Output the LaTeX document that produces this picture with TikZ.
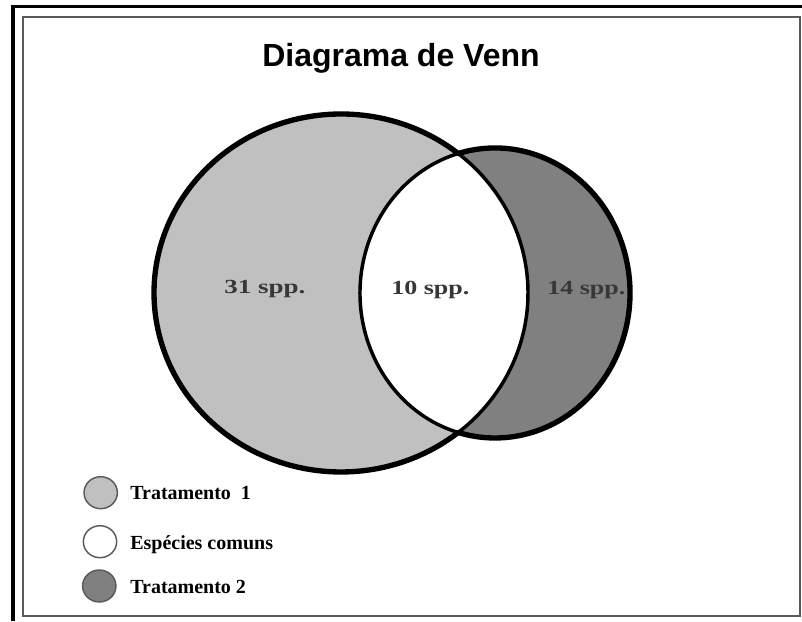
\documentclass[tikz,border=0pt]{standalone}
\usepackage{fontspec}
\setmainfont{Liberation Serif}
\newfontfamily\titlefont{Liberation Sans}
\usetikzlibrary{shapes.geometric}
\definecolor{tone1}{RGB}{192,192,192}
\definecolor{tone2}{RGB}{128,128,128}
\definecolor{labelgray}{RGB}{55,55,55}
\definecolor{framegray}{RGB}{90,90,90}
\begin{document}
\begin{tikzpicture}[x=0.75pt,y=0.75pt,
  bigell/.style={x radius=140.25pt, y radius=134.25pt},
  smallell/.style={x radius=101.25pt, y radius=108.75pt},
  outerline/.style={line width=4pt, line join=round, line cap=round},
  lensline/.style={line width=2.6pt, line cap=round},
  countlabel/.style={font=\bfseries\fontsize{15}{18}\selectfont, text=labelgray, anchor=base west, inner sep=0pt},
  legendlabel/.style={font=\bfseries\fontsize{15}{18}\selectfont, anchor=base west, inner sep=0pt},
  legendkey/.style={ellipse, draw=framegray, line width=1.1pt, minimum width=25pt, minimum height=24pt, inner sep=0pt}
]
\useasboundingbox (0,0) rectangle (802,621);
% frame
\draw[line width=2.25pt] (11,614) -- (802,614);
\draw[line width=3pt] (13,616) -- (13,0);
\draw[framegray, line width=1.1pt] (23,5) rectangle (800,604);
% title
\node[font=\titlefont\bfseries\fontsize{24}{28}\selectfont] (title) at (401,563) {Diagrama de Venn};
% Venn
\coordinate (cB) at (341,328);
\coordinate (cS) at (495,328);
\coordinate (P) at (458.175,467.5);
\coordinate (Q) at (458.175,188.5);
\fill[tone1] (cB) ellipse[bigell];
\fill[tone2] (cS) ellipse[smallell];
\fill[white] (P) arc[start angle=51.2, end angle=-51.2, bigell]
  arc[start angle=254.17, end angle=105.83, smallell] -- cycle;
\draw[lensline] (P) arc[start angle=51.2, end angle=-51.2, bigell];
\draw[lensline] (Q) arc[start angle=254.17, end angle=105.83, smallell];
\draw[outerline] (P) arc[start angle=51.2, end angle=308.8, bigell];
\draw[outerline] (P) arc[start angle=105.83, end angle=-105.83, smallell];
% counts
\node[countlabel] (n1) at (224,327) {\scalebox{1.35}[1]{31 spp.}};
\node[countlabel] (n12) at (391,326) {\scalebox{1.3}[1]{10 spp.}};
\node[countlabel] (n2) at (547,326) {\scalebox{1.3}[1]{14 spp.}};
% legend
\node[legendkey, fill=tone1] (k1) at (100.7,128.3) {};
\node[legendkey, fill=white] (k2) at (100,79.3) {};
\node[legendkey, fill=tone2] (k3) at (99.3,35) {};
\node[legendlabel] (l1) at (130,122) {Tratamento\ \ 1};
\node[legendlabel] (l2) at (130,72) {Espécies comuns};
\node[legendlabel] (l3) at (130,28) {Tratamento 2};
\end{tikzpicture}
\end{document}
